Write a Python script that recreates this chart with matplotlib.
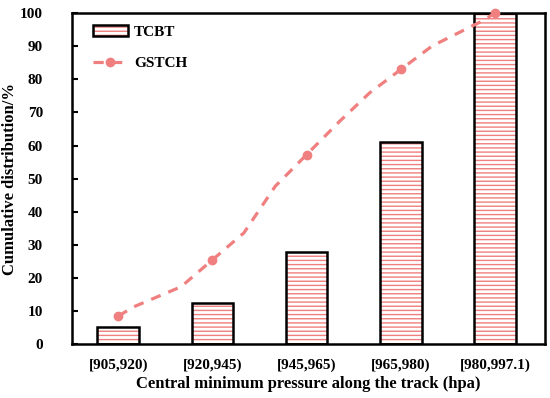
import matplotlib.pyplot as plt
import numpy as np
from matplotlib.path import Path
from matplotlib.lines import Line2D

plt.rcParams["font.family"] = ["Liberation Serif", "DejaVu Serif"]
plt.rcParams["font.weight"] = "bold"
plt.rcParams["hatch.linewidth"] = 1.0

# data
categories = ["[905,920)", "[920,945)", "[945,965)", "[965,980)", "[980,997.1)"]
tcbt = [5.2, 12.6, 28.0, 61.0, 100.0]
gstch = [8.5, 25.5, 57.3, 83.0, 100.0]

PINK = "#f07f7f"
DASH = (0, (3.2, 2.6))

fig, ax = plt.subplots(figsize=(5.5, 3.98), dpi=100)
fig.subplots_adjust(left=0.131, right=0.991, top=0.967, bottom=0.135)

xs = np.arange(len(categories))
hatched = ax.bar(xs, tcbt, width=0.44, color="white", edgecolor=PINK,
                 hatch="----", linewidth=0, zorder=2)
outline = ax.bar(xs, tcbt, width=0.44, color="none", edgecolor="black",
                 linewidth=1.8, zorder=3)

# smooth curve through the points (Catmull-Rom as cubic Bezier segments)
pts = np.column_stack([xs, gstch]).astype(float)
verts = [tuple(pts[0])]
codes = [Path.MOVETO]
for i in range(len(pts) - 1):
    p0 = pts[i - 1] if i > 0 else pts[i]
    p1, p2 = pts[i], pts[i + 1]
    p3 = pts[i + 2] if i + 2 < len(pts) else pts[i + 1]
    c1 = p1 + (p2 - p0) / 6.0
    c2 = p2 - (p3 - p1) / 6.0
    verts += [tuple(c1), tuple(c2), tuple(p2)]
    codes += [Path.CURVE4] * 3
smooth = Path(verts, codes).interpolated(30).vertices
ax.plot(smooth[:, 0], smooth[:, 1], color=PINK, linewidth=2.3, linestyle=DASH,
        zorder=4)
ax.plot(xs, gstch, linestyle="none", marker="o", markersize=6, color=PINK,
        zorder=5, clip_on=False)

ax.set_xlim(-0.49, 4.53)
ax.set_ylim(0, 100)
ax.set_yticks(np.arange(0, 101, 10))
ax.set_xticks(xs, categories)
ax.tick_params(axis="both", direction="in", length=4, width=1.5, labelsize=11)
ax.tick_params(axis="x", pad=10)
ax.tick_params(axis="y", pad=21)
for s in ax.spines.values():
    s.set_linewidth(1.8)

ax.set_xlabel("Central minimum pressure along the track (hpa)", fontsize=12,
              fontweight="bold", labelpad=3)
ax.set_ylabel("Cumulative distribution/%", fontsize=12, fontweight="bold",
              labelpad=1)

line_handle = Line2D([0], [0], color=PINK, linestyle=DASH, linewidth=2.3,
                     marker="o", markersize=6)
ax.legend([(hatched[0], outline[0]), line_handle], ["TCBT", "GSTCH"],
          loc="upper left", frameon=False, fontsize=11, handlelength=2.3,
          handletextpad=0.4, labelspacing=1.15, borderaxespad=0.5,
          bbox_to_anchor=(0.015, 1.005))

fig.savefig("out.png", dpi=100)
